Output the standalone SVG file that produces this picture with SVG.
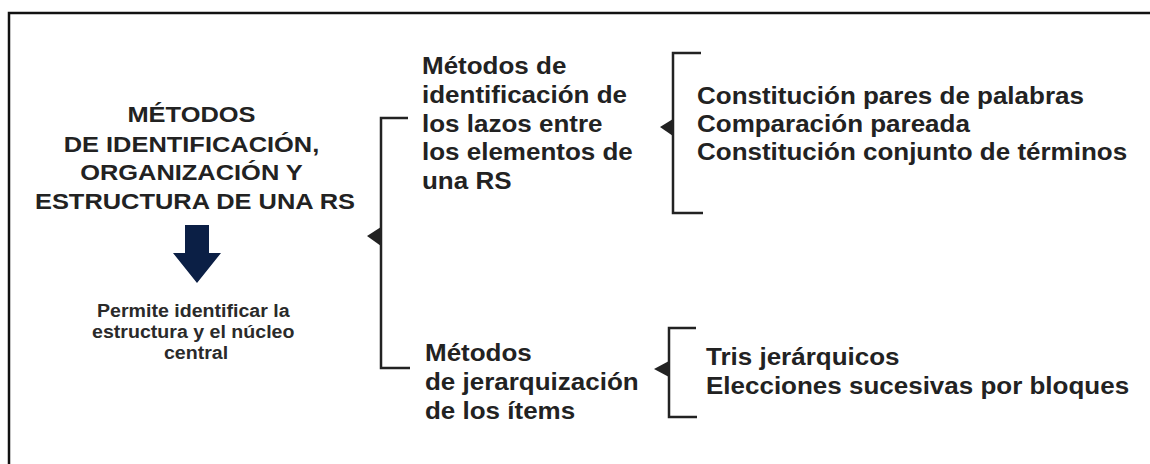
<svg xmlns="http://www.w3.org/2000/svg" width="1150" height="464" viewBox="0 0 1150 464">
  <style>
    .t { font-family: "Liberation Sans", Arial, sans-serif; font-weight: bold; fill: #222; }
    .big { font-size: 23px; }
    .title { font-size: 22.5px; }
    .small { font-size: 17.5px; fill: #2a2a2a; }
    .br { fill: none; stroke: #222; stroke-width: 2.5; }
    .ah { fill: #222; }
  </style>
  <rect width="1150" height="464" fill="#fff"/>
  <path d="M9,464 V13 H1150" fill="none" stroke="#111" stroke-width="2.5"/>

  <g id="title">
    <g transform="translate(195,0) scale(1.13,1)">
      <text class="t title" text-anchor="middle">
        <tspan x="0" y="122">MÉTODOS</tspan>
        <tspan x="0" y="152">DE IDENTIFICACIÓN,</tspan>
        <tspan x="0" y="180">ORGANIZACIÓN Y</tspan>
        <tspan x="0" y="209">ESTRUCTURA DE UNA RS</tspan>
      </text>
    </g>
  </g>

  <g id="down-arrow">
    <polygon points="185,225 209,225 209,253 221,253 197,283 173,253 185,253" fill="#0b1f45"/>
  </g>

  <g id="note">
    <g transform="translate(196,0) scale(1.12,1)">
      <text class="t small" text-anchor="middle">
        <tspan x="0" y="317">Permite identificar la</tspan>
        <tspan x="0" y="338">estructura y el núcleo</tspan>
        <tspan x="0" y="359">central</tspan>
      </text>
    </g>
  </g>

  <g id="connectors">
    <path class="br" d="M408,118 H381 V368 H410"/>
    <polygon class="ah" points="381,227 381,246 367,236"/>
    <path class="br" d="M701,53 H673 V213 H703"/>
    <polygon class="ah" points="673,119 673,136 660,127"/>
    <path class="br" d="M696,328 H669 V417 H697"/>
    <polygon class="ah" points="669,361 669,377 654,369"/>
  </g>

  <g id="method-links">
    <g transform="translate(422,0) scale(1.13,1)">
      <text class="t big">
        <tspan x="0" y="74">Métodos de</tspan>
        <tspan x="0" y="103">identificación de</tspan>
        <tspan x="0" y="132">los lazos entre</tspan>
        <tspan x="0" y="160">los elementos de</tspan>
        <tspan x="0" y="189">una RS</tspan>
      </text>
    </g>
  </g>

  <g id="method-hier">
    <g transform="translate(425,0) scale(1.13,1)">
      <text class="t big">
        <tspan x="0" y="361">Métodos</tspan>
        <tspan x="0" y="390">de jerarquización</tspan>
        <tspan x="0" y="419">de los ítems</tspan>
      </text>
    </g>
  </g>

  <g id="list-links">
    <g transform="translate(697,0) scale(1.13,1)">
      <text class="t big">
        <tspan x="0" y="104">Constitución pares de palabras</tspan>
        <tspan x="0" y="132">Comparación pareada</tspan>
        <tspan x="0" y="160">Constitución conjunto de términos</tspan>
      </text>
    </g>
  </g>

  <g id="list-hier">
    <g transform="translate(706,0) scale(1.13,1)">
      <text class="t big">
        <tspan x="0" y="365">Tris jerárquicos</tspan>
        <tspan x="0" y="394">Elecciones sucesivas por bloques</tspan>
      </text>
    </g>
  </g>
</svg>
